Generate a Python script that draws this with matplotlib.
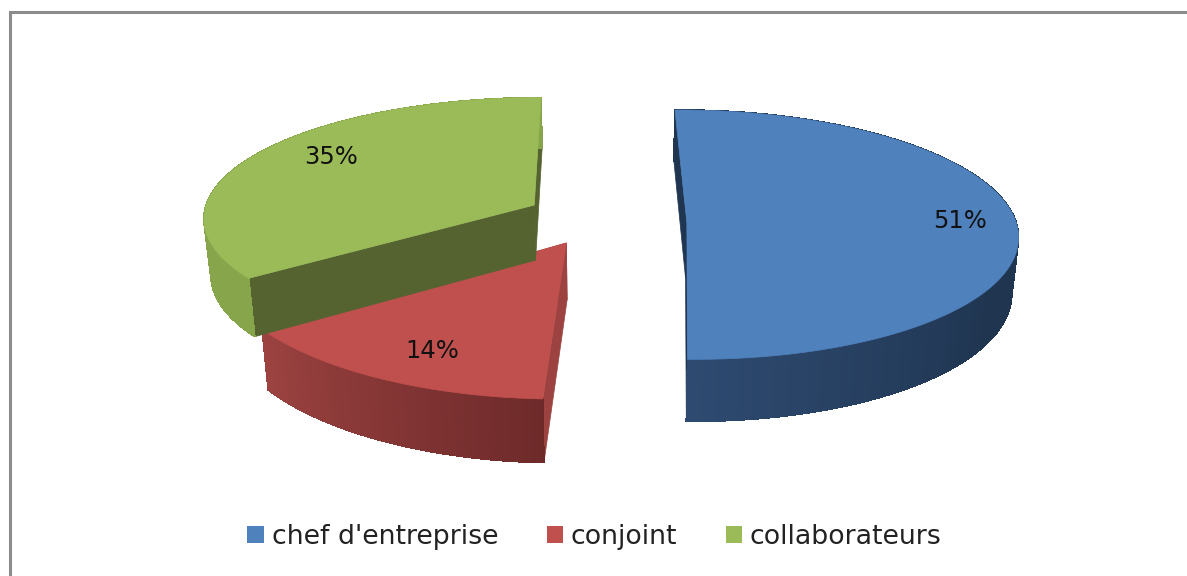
import numpy as np
import matplotlib.pyplot as plt
from matplotlib.patches import Patch
from matplotlib.collections import PolyCollection
from matplotlib.colors import to_rgb

categories = ["chef d'entreprise", "conjoint", "collaborateurs"]
values = [50.6, 14.4, 35.0]
top_colors = ['#4f81bd', '#c0504d', '#9bbb59']
wall_colors = ['#1f3550', '#9c4341', '#556331']
side_colors = [('#2e4a70', '#1f3550'), ('#6e2a2a', '#9c4341'), ('#87a64b', '#87a64b')]

# camera of the fake 3d pie, in pixels
xc, yv, H, D, rx, k = 612, -1040, 1265, 56, 335, 0.1
base_shrink = 0.983
# per slice: x offset px, depth offset, x radius, depth radius, turn in degrees
offsets = [(75, 0.02, 0.985, 0.98, -1.0), (-45, -0.14, 1.02, 1.07, 0.5), (-79, 0.16, 0.995, 0.96, 0.0)]
label_pos = [(960, 221), (432, 351), (331, 157)]


def project(x, z, base=False):
    s = 1 / (1 + k * z)
    if base:
        return xc + x * s * base_shrink, yv + (H + D) * s
    return xc + x * s, yv + H * s


def rim(off, th, base=False):
    return project(off[0] + rx * off[2] * np.sin(th), off[1] + off[3] * np.cos(th), base)


fig = plt.figure(figsize=(11.87, 5.76), dpi=100)
ax = fig.add_axes([0, 0, 1, 1])
ax.set_xlim(0, 1187)
ax.set_ylim(576, 0)
ax.axis('off')

ax.plot([10, 10, 1187], [576, 12, 12], color='#8c8c8c', lw=2.2, solid_joinstyle='miter')

edges = np.cumsum([0] + values) / sum(values) * 360
# green, then red on top of it, blue does not touch them
for i in [2, 1, 0]:
    off = offsets[i]
    t0, t1 = np.radians(edges[i] + off[4]), np.radians(edges[i + 1] + off[4])
    th = np.linspace(t0, t1, 160)
    ax0, ay0 = project(off[0], off[1])
    bx0, by0 = project(off[0], off[1], True)

    # the two radial walls
    for t in (t0, t1):
        px, py = rim(off, t)
        qx, qy = rim(off, t, True)
        ax.fill([ax0, px, qx, bx0], [ay0, py, qy, by0], color=wall_colors[i], lw=0.5, zorder=i + 2)

    # outer wall, shaded segment by segment over a plain one
    tx, ty = rim(off, th)
    ux, uy = rim(off, th, True)
    c0, c1 = np.array(to_rgb(side_colors[i][0])), np.array(to_rgb(side_colors[i][1]))
    ax.fill(np.r_[tx, ux[::-1]], np.r_[ty, uy[::-1]], color=(c0 + c1) / 2, lw=0.5, zorder=i + 2)
    quads = [[(tx[j], ty[j]), (tx[j + 1], ty[j + 1]), (ux[j + 1], uy[j + 1]), (ux[j], uy[j])]
             for j in range(len(th) - 1)]
    if i == 0:
        frac = np.clip((np.degrees(th[:-1]) - 120) / 60, 0, 1)
        cols = [c1 + (c0 - c1) * f for f in frac]
    else:
        frac = np.linspace(0, 1, len(quads))
        cols = [c0 + (c1 - c0) * f for f in frac]
    ax.add_collection(PolyCollection(quads, facecolors=cols, edgecolors=cols, linewidths=0.5,
                                     antialiaseds=False, zorder=i + 2))

    # top face
    ax.fill(np.r_[ax0, tx], np.r_[ay0, ty], color=top_colors[i], lw=0.5, zorder=i + 2.5)
    ax.text(label_pos[i][0], label_pos[i][1], '%.0f%%' % values[i], fontsize=17.5, color='#111111',
            ha='center', va='center', zorder=10)

handles = [Patch(facecolor=c, edgecolor='none') for c in top_colors]
ax.legend(handles, categories, ncol=3, loc='center', bbox_to_anchor=(594.5 / 1187, 1 - 537 / 576),
          frameon=False, fontsize=19.3, handlelength=0.6, handleheight=0.6, handletextpad=0.3,
          columnspacing=1.81, labelcolor='#222222')

fig.savefig('out.png', dpi=100)
